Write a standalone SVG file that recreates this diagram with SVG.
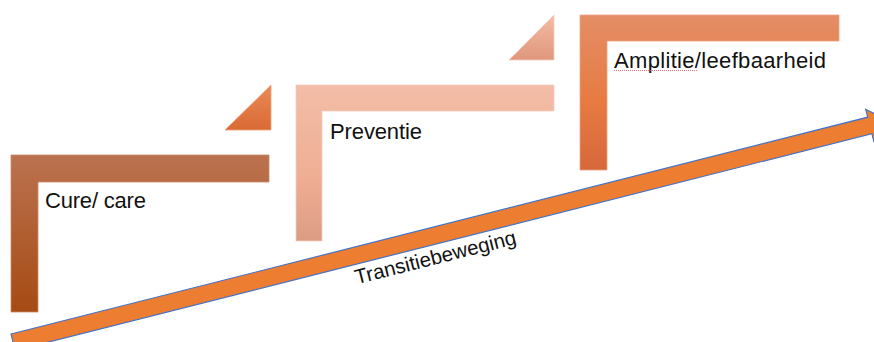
<svg xmlns="http://www.w3.org/2000/svg" width="874" height="342" viewBox="0 0 874 342">
  <defs>
    <linearGradient id="gCure" x1="0" y1="0" x2="0" y2="1">
      <stop offset="0" stop-color="#bb7250"/>
      <stop offset="1" stop-color="#a64b13"/>
    </linearGradient>
    <linearGradient id="gPrev" x1="0" y1="0" x2="0" y2="1">
      <stop offset="0" stop-color="#f3bda7"/>
      <stop offset="0.6" stop-color="#efae94"/>
      <stop offset="1" stop-color="#dc9c83"/>
    </linearGradient>
    <linearGradient id="gAmp" x1="0" y1="0" x2="0" y2="1">
      <stop offset="0" stop-color="#e48d66"/>
      <stop offset="0.55" stop-color="#e77b42"/>
      <stop offset="1" stop-color="#d6683a"/>
    </linearGradient>
    <linearGradient id="gTri1" x1="0" y1="0" x2="0" y2="1">
      <stop offset="0" stop-color="#ea8a56"/>
      <stop offset="1" stop-color="#d96a34"/>
    </linearGradient>
    <linearGradient id="gTri2" x1="0" y1="0" x2="0" y2="1">
      <stop offset="0" stop-color="#f4bca5"/>
      <stop offset="1" stop-color="#df977b"/>
    </linearGradient>
  </defs>
  <style>
    .lbl { font-family: "Liberation Sans", Arial, sans-serif; font-size: 22px; fill: #111111; }
    .arrowLbl { font-family: "Liberation Sans", Arial, sans-serif; font-size: 20.5px; fill: #111111; }
    .shape { stroke-width: 0.8; }
  </style>
  <rect width="874" height="342" fill="#ffffff"/>

  <g id="step-cure">
    <path class="shape" d="M11,155 H269 V182 H38 V312 H11 Z" fill="url(#gCure)" stroke="#c98a66"/>
    <text class="lbl" x="45" y="208" textLength="101">Cure/ care</text>
  </g>

  <g id="riser-1">
    <path class="shape" d="M271,85 L271,130 L225,130 Z" fill="url(#gTri1)" stroke="#f0a27a"/>
  </g>

  <g id="step-preventie">
    <path class="shape" d="M296,85 H554 V111 H322 V241 H296 Z" fill="url(#gPrev)" stroke="#f6cdbd"/>
    <text class="lbl" x="330" y="139" textLength="92">Preventie</text>
  </g>

  <g id="riser-2">
    <path class="shape" d="M554,15 L554,60 L509,60 Z" fill="url(#gTri2)" stroke="#f6cdbd"/>
  </g>

  <g id="step-amplitie">
    <path class="shape" d="M580,15 H839 V41 H607 V170 H580 Z" fill="url(#gAmp)" stroke="#eda283"/>
    <text class="lbl" x="614" y="68" textLength="212">Amplitie/leefbaarheid</text>
    <line x1="614" y1="70.5" x2="697" y2="70.5" stroke="#e05050" stroke-width="0.8" stroke-dasharray="1 1"/>
  </g>

  <g id="connectors">
    <path d="M11,334 L867.7,117.2 L865.7,109.4 L889.1,120.5 L873.8,141.4 L871.9,133.7 L15.2,350.5 Z" fill="#ed7d31" stroke="#4472c4" stroke-width="1.2" stroke-linejoin="miter"/>
    <text class="arrowLbl" transform="translate(437,264) rotate(-14.2)" text-anchor="middle">Transitiebeweging</text>
  </g>
</svg>
